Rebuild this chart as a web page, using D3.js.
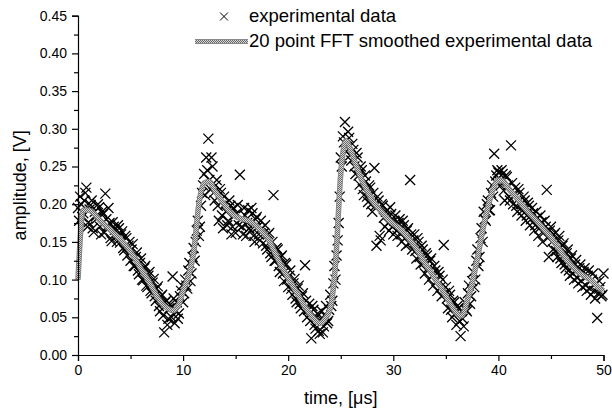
<!DOCTYPE html>
<html>
<head>
<meta charset="utf-8">
<script src="https://cdn.jsdelivr.net/npm/d3@7/dist/d3.min.js"></script>
<style>
  body { margin: 0; background: #fff; }
  svg { display: block; font-family: "Liberation Sans", Arial, sans-serif; }
</style>
</head>
<body>
<div id="chart"></div>
<script>
// experimental data, two interleaved sweeps every 0.2 us
// sweep A starts at t = 0, sweep B at t = 0.1
const expStep = 0.2;
const expStartA = 0;
const expValuesA = [
  // 0 - 4.8
  0.195, 0.210, 0.183, 0.205, 0.222, 0.176, 0.199, 0.168, 0.190, 0.181,
  0.196, 0.160, 0.187, 0.214, 0.171, 0.175, 0.151, 0.170, 0.158, 0.172,
  0.149, 0.164, 0.139, 0.155, 0.145,
  // 5 - 9.8
  0.125, 0.147, 0.118, 0.136, 0.107, 0.128, 0.099, 0.118, 0.090, 0.110,
  0.082, 0.101, 0.072, 0.091, 0.058, 0.080, 0.030, 0.072, 0.048, 0.067,
  0.104, 0.042, 0.070, 0.055, 0.085,
  // 10 - 14.8
  0.070, 0.100, 0.088, 0.122, 0.108, 0.142, 0.150, 0.178, 0.170, 0.215,
  0.240, 0.262, 0.287, 0.220, 0.250, 0.205, 0.232, 0.178, 0.215, 0.168,
  0.200, 0.172, 0.205, 0.160, 0.195,
  // 15 - 19.8
  0.162, 0.199, 0.239, 0.170, 0.195, 0.158, 0.192, 0.165, 0.188, 0.150,
  0.183, 0.160, 0.178, 0.148, 0.172, 0.140, 0.162, 0.130, 0.212, 0.125,
  0.140, 0.110, 0.132, 0.098, 0.120,
  // 20 - 24.8
  0.090, 0.112, 0.080, 0.101, 0.070, 0.092, 0.062, 0.082, 0.119, 0.050,
  0.068, 0.022, 0.060, 0.035, 0.055, 0.028, 0.058, 0.038, 0.065, 0.045,
  0.080, 0.072, 0.118, 0.132, 0.175,
  // 25 - 29.8
  0.262, 0.290, 0.309, 0.276, 0.288, 0.258, 0.272, 0.240, 0.262, 0.226,
  0.245, 0.212, 0.230, 0.203, 0.222, 0.190, 0.248, 0.145, 0.205, 0.152,
  0.198, 0.170, 0.192, 0.165, 0.187,
  // 30 - 34.8
  0.160, 0.185, 0.158, 0.180, 0.150, 0.172, 0.145, 0.168, 0.232, 0.140,
  0.160, 0.128, 0.150, 0.120, 0.140, 0.108, 0.132, 0.100, 0.128, 0.092,
  0.112, 0.085, 0.105, 0.078, 0.146,
  // 35 - 39.8
  0.090, 0.062, 0.080, 0.050, 0.070, 0.040, 0.062, 0.025, 0.048, 0.070,
  0.058, 0.092, 0.078, 0.110, 0.100, 0.140, 0.130, 0.168, 0.190, 0.178,
  0.205, 0.192, 0.225, 0.267, 0.238,
  // 40 - 44.8
  0.242, 0.225, 0.240, 0.205, 0.236, 0.210, 0.278, 0.200, 0.222, 0.190,
  0.215, 0.185, 0.210, 0.178, 0.202, 0.172, 0.195, 0.165, 0.190, 0.158,
  0.185, 0.150, 0.178, 0.219, 0.130,
  // 45 - 50
  0.170, 0.140, 0.162, 0.130, 0.158, 0.122, 0.148, 0.115, 0.140, 0.105,
  0.132, 0.100, 0.126, 0.095, 0.120, 0.090, 0.115, 0.085, 0.112, 0.080,
  0.108, 0.075, 0.049, 0.098, 0.078, 0.108
];
const expStartB = 0.1;
const expValuesB = [
  // 0.1 - 4.9
  0.178, 0.200, 0.188, 0.215, 0.170, 0.193, 0.205, 0.163, 0.184, 0.200,
  0.170, 0.190, 0.162, 0.180, 0.195, 0.155, 0.176, 0.166, 0.150, 0.168,
  0.160, 0.142, 0.158, 0.132, 0.150,
  // 5.1 - 9.9
  0.140, 0.118, 0.130, 0.112, 0.122, 0.100, 0.115, 0.092, 0.105, 0.085,
  0.096, 0.078, 0.088, 0.065, 0.078, 0.052, 0.070, 0.040, 0.062, 0.050,
  0.075, 0.058, 0.048, 0.078, 0.092,
  // 10.1 - 14.9
  0.082, 0.092, 0.112, 0.098, 0.130, 0.125, 0.165, 0.158, 0.198, 0.225,
  0.212, 0.245, 0.232, 0.262, 0.215, 0.225, 0.198, 0.220, 0.185, 0.210,
  0.190, 0.178, 0.198, 0.170, 0.185,
  // 15.1 - 19.9
  0.188, 0.172, 0.180, 0.160, 0.185, 0.175, 0.168, 0.195, 0.158, 0.180,
  0.170, 0.152, 0.168, 0.162, 0.145, 0.160, 0.135, 0.150, 0.125, 0.142,
  0.118, 0.130, 0.108, 0.122, 0.100,
  // 20.1 - 24.9
  0.105, 0.088, 0.095, 0.075, 0.088, 0.068, 0.078, 0.058, 0.072, 0.060,
  0.045, 0.065, 0.040, 0.050, 0.032, 0.048, 0.030, 0.052, 0.042, 0.060,
  0.065, 0.095, 0.100, 0.152, 0.210,
  // 25.1 - 29.9
  0.250, 0.282, 0.270, 0.296, 0.265, 0.280, 0.250, 0.268, 0.238, 0.250,
  0.220, 0.238, 0.210, 0.225, 0.200, 0.215, 0.198, 0.210, 0.158, 0.200,
  0.182, 0.190, 0.175, 0.196, 0.170,
  // 30.1 - 34.9
  0.178, 0.165, 0.175, 0.160, 0.178, 0.155, 0.165, 0.148, 0.160, 0.152,
  0.138, 0.155, 0.130, 0.145, 0.122, 0.135, 0.115, 0.125, 0.105, 0.118,
  0.098, 0.110, 0.090, 0.100, 0.082,
  // 35.1 - 39.9
  0.075, 0.085, 0.060, 0.072, 0.055, 0.065, 0.045, 0.058, 0.038, 0.060,
  0.082, 0.068, 0.098, 0.090, 0.125, 0.118, 0.155, 0.150, 0.180, 0.200,
  0.192, 0.215, 0.210, 0.230, 0.245,
  // 40.1 - 44.9
  0.230, 0.245, 0.218, 0.238, 0.225, 0.205, 0.228, 0.212, 0.198, 0.220,
  0.200, 0.192, 0.205, 0.185, 0.198, 0.180, 0.188, 0.172, 0.182, 0.168,
  0.176, 0.162, 0.170, 0.155, 0.165,
  // 45.1 - 49.9
  0.150, 0.160, 0.138, 0.152, 0.128, 0.145, 0.120, 0.135, 0.112, 0.128,
  0.108, 0.120, 0.102, 0.115, 0.098, 0.110, 0.092, 0.105, 0.088, 0.100,
  0.085, 0.095, 0.082, 0.090, 0.080
];

// 20 point FFT smoothed curve, every 0.5 us
const smoothStep = 0.5;
const smoothValues = [
  0.100, 0.192, 0.192, 0.188, 0.180, 0.173, 0.167, 0.160, 0.154, 0.146,
  0.137, 0.126, 0.114, 0.103, 0.091, 0.078, 0.068, 0.062, 0.059, 0.064,
  0.085, 0.104, 0.135, 0.200, 0.228, 0.230, 0.218, 0.208, 0.198, 0.189,
  0.184, 0.181, 0.179, 0.176, 0.171, 0.164, 0.156, 0.143, 0.128, 0.114,
  0.102, 0.090, 0.078, 0.066, 0.056, 0.047, 0.042, 0.048, 0.062, 0.120,
  0.240, 0.284, 0.270, 0.250, 0.232, 0.218, 0.205, 0.196, 0.188, 0.180,
  0.174, 0.169, 0.162, 0.154, 0.145, 0.134, 0.122, 0.112, 0.100, 0.090,
  0.078, 0.066, 0.056, 0.052, 0.070, 0.095, 0.128, 0.165, 0.196, 0.220,
  0.232, 0.230, 0.220, 0.212, 0.204, 0.195, 0.187, 0.180, 0.172, 0.164,
  0.156, 0.146, 0.136, 0.126, 0.118, 0.111, 0.106, 0.102, 0.097, 0.090,
  0.085
];

const xTicks = [0, 10, 20, 30, 40, 50];
const xMinorTicks = [5, 15, 25, 35, 45];
const yTicks = [0, 0.05, 0.10, 0.15, 0.20, 0.25, 0.30, 0.35, 0.40, 0.45];
const yMinorTicks = [0.025, 0.075, 0.125, 0.175, 0.225, 0.275, 0.325, 0.375, 0.425];

const legendLabels = ['experimental data', '20 point FFT smoothed experimental data'];

const width = 612, height = 412;
const margin = { left: 78, right: 8.5, top: 15.7, bottom: 57 };

const expData = expValuesA.map((v, i) => ({ t: expStartA + i * expStep, v }))
  .concat(expValuesB.map((v, i) => ({ t: expStartB + i * expStep, v })));
const smoothData = smoothValues.map((v, i) => ({ t: i * smoothStep, v }));

const svg = d3.select('#chart').append('svg')
  .attr('width', width)
  .attr('height', height);

// dithered grey, like the printed smoothed line
const defs = svg.append('defs');
const pat = defs.append('pattern')
  .attr('id', 'dither')
  .attr('patternUnits', 'userSpaceOnUse')
  .attr('width', 2).attr('height', 2);
pat.append('rect').attr('width', 2).attr('height', 2).attr('fill', '#d8d8d8');
pat.append('rect').attr('width', 1).attr('height', 1).attr('fill', '#666');
pat.append('rect').attr('x', 1).attr('y', 1).attr('width', 1).attr('height', 1).attr('fill', '#666');

const x = d3.scaleLinear().domain([0, 50]).range([margin.left, width - margin.right]);
const y = d3.scaleLinear().domain([0, 0.45]).range([height - margin.bottom, margin.top]);

// axes
const xAxis = d3.axisBottom(x).tickValues(xTicks).tickFormat(d3.format('d')).tickSize(6).tickPadding(4);
const xMinor = d3.axisBottom(x).tickValues(xMinorTicks).tickFormat('').tickSize(4);
const yAxis = d3.axisLeft(y).tickValues(yTicks).tickFormat(d3.format('.2f')).tickSize(6).tickPadding(5);
const yMinor = d3.axisLeft(y).tickValues(yMinorTicks).tickFormat('').tickSize(4);

function styleAxis(g) {
  g.attr('font-family', null).attr('font-size', null);
  g.select('.domain').attr('stroke', '#000').attr('stroke-width', 1.2);
  g.selectAll('.tick line').attr('stroke', '#000').attr('stroke-width', 1.2);
  g.selectAll('.tick text').attr('fill', '#000').style('font-size', '14px');
}

// markers
const cross = s => `M${-s},${-s}L${s},${s}M${-s},${s}L${s},${-s}`;

svg.append('g')
  .selectAll('path')
  .data(expData)
  .enter()
  .append('path')
  .attr('transform', d => `translate(${x(d.t)},${y(d.v)})`)
  .attr('d', cross(5))
  .attr('fill', 'none')
  .attr('stroke', '#000')
  .attr('stroke-width', 1.3);

// smoothed curve
const line = d3.line()
  .x(d => x(d.t))
  .y(d => y(d.v))
  .curve(d3.curveMonotoneX);

svg.append('path')
  .datum(smoothData)
  .attr('d', line)
  .attr('fill', 'none')
  .attr('stroke', '#888')
  .attr('stroke-width', 5.5)
  .attr('stroke-linejoin', 'round');
svg.append('path')
  .datum(smoothData)
  .attr('d', line)
  .attr('fill', 'none')
  .attr('stroke', 'url(#dither)')
  .attr('stroke-width', 3.5)
  .attr('stroke-linejoin', 'round');

svg.append('g').attr('transform', `translate(0,${y(0)})`).call(xAxis).call(styleAxis);
svg.append('g').attr('transform', `translate(0,${y(0)})`).call(xMinor).call(styleAxis)
  .select('.domain').remove();
svg.append('g').attr('transform', `translate(${x(0)},0)`).call(yAxis).call(styleAxis);
svg.append('g').attr('transform', `translate(${x(0)},0)`).call(yMinor).call(styleAxis)
  .select('.domain').remove();

// axis titles
svg.append('text')
  .attr('x', (x(0) + x(50)) / 2)
  .attr('y', 404)
  .attr('text-anchor', 'middle')
  .style('font-size', '18px')
  .text('time, [\u03bcs]');

svg.append('text')
  .attr('transform', `translate(26,${y(0.225)}) rotate(-90)`)
  .attr('text-anchor', 'middle')
  .style('font-size', '18px')
  .text('amplitude, [V]');

// legend
const legend = svg.append('g');
legend.append('path')
  .attr('transform', 'translate(224,16.5)')
  .attr('d', cross(4))
  .attr('fill', 'none')
  .attr('stroke', '#000')
  .attr('stroke-width', 1);
legend.append('text')
  .attr('x', 249).attr('y', 22)
  .style('font-size', '18.5px')
  .text(legendLabels[0]);

legend.append('line')
  .attr('x1', 195).attr('x2', 248).attr('y1', 41.5).attr('y2', 41.5)
  .attr('stroke', '#888').attr('stroke-width', 5);
legend.append('line')
  .attr('x1', 195).attr('x2', 248).attr('y1', 41.5).attr('y2', 41.5)
  .attr('stroke', 'url(#dither)').attr('stroke-width', 3);
legend.append('text')
  .attr('x', 249).attr('y', 47)
  .style('font-size', '18.5px')
  .text(legendLabels[1]);
</script>
</body>
</html>
